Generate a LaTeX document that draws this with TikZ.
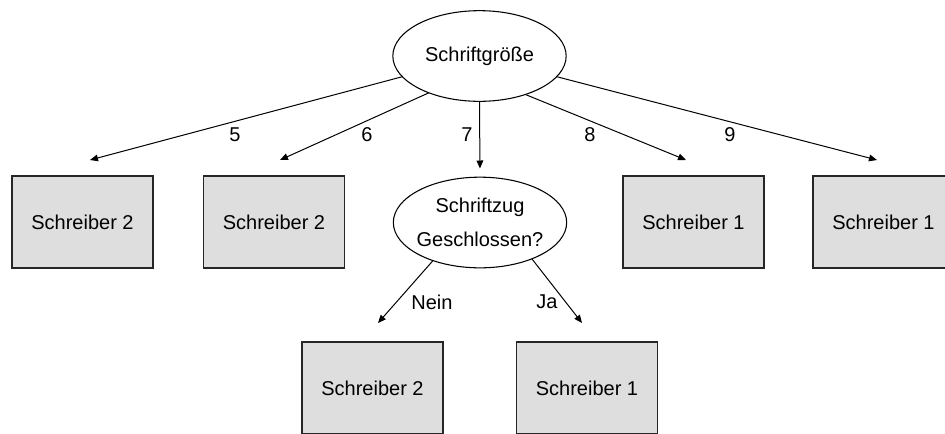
\documentclass[tikz,border=0pt]{standalone}
\usepackage{fontspec}
\setmainfont{Liberation Sans}
\usetikzlibrary{shapes.geometric,arrows.meta}

\begin{document}
\begin{tikzpicture}[x=0.75pt,y=-0.75pt,inner sep=0pt,outer sep=0pt,line width=0.75pt,
font=\fontsize{15}{18}\selectfont,>={Triangle[length=6pt,width=5pt]},
testnode/.style={draw,ellipse,minimum width=130pt,minimum height=68pt,line width=0.8pt},
leafbox/.style={draw=black!85,fill=black!13,rectangle,minimum width=105.75pt,minimum height=69pt,line width=1pt}]
\useasboundingbox (0,0) rectangle (945,433);
\draw (479.5,56) node[testnode] (size) {Schriftgröße};
\draw (480,222.5) node[testnode,inner xsep=-3pt,align=center,font=\fontsize{15}{26}\selectfont] (closed) {Schriftzug\\Geschlossen?};
\draw (82.5,222) node[leafbox] (w5) {Schreiber 2};
\draw (274,222) node[leafbox] (w6) {Schreiber 2};
\draw (693.5,222) node[leafbox] (w8) {Schreiber 1};
\draw (883.5,222) node[leafbox] (w9) {Schreiber 1};
\draw (372.5,388) node[leafbox] (wno) {Schreiber 2};
\draw (587,388) node[leafbox] (wyes) {Schreiber 1};
% Pfeilspitzen enden frei ueber den Kaesten
\coordinate (e5) at (90,160);
\coordinate (e6) at (280,160);
\coordinate (e8) at (686,160);
\coordinate (e9) at (877,160);
\coordinate (eno) at (378,323);
\coordinate (eyes) at (582,323);
\draw[->] (size.south) -- (closed.north) [shorten >=6.5pt];
\draw[->] (size.195) -- (e5);
\draw[->] (size.216) -- (e6);
\draw[->] (size.320) -- (e8);
\draw[->] (size.345) -- (e9);
\draw[->] (closed.219) -- (eno);
\draw[->] (closed.325) -- (eyes);
\node (l5) at (235,135) {5};
\node (l6) at (367,135) {6};
\node (l7) at (467,135) {7};
\node (l8) at (590,135) {8};
\node (l9) at (730,135) {9};
\node (lno) at (432,302) {Nein};
\node (lyes) at (547,302) {Ja};
\end{tikzpicture}
\end{document}
